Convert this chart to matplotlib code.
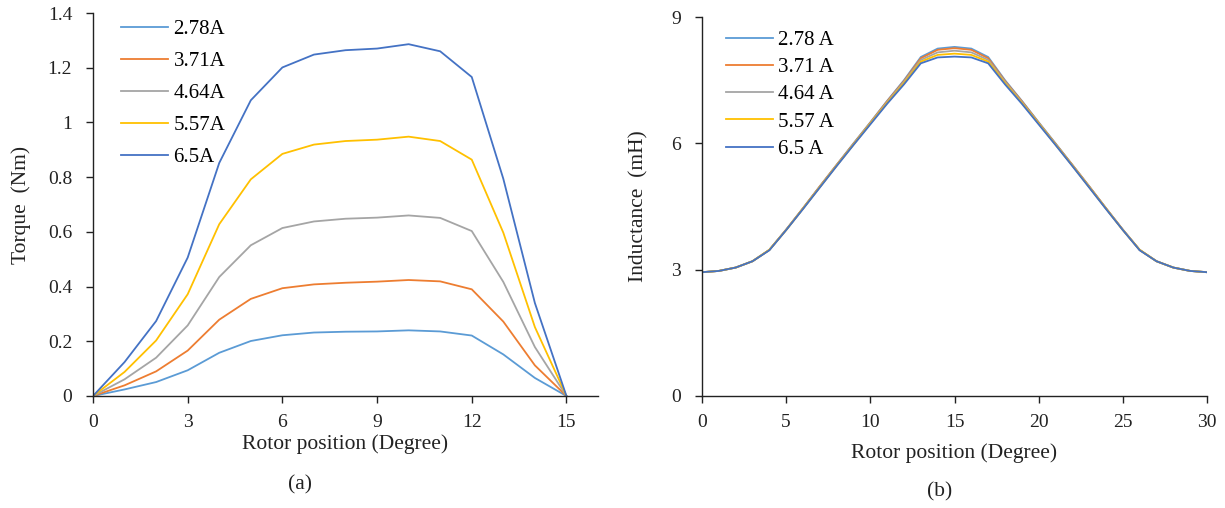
import numpy as np
import matplotlib
matplotlib.use("Agg")
import matplotlib.pyplot as plt

plt.rcParams['font.family'] = ['Liberation Serif', 'DejaVu Serif']

colors = ["#5B9BD5", "#ED7D31", "#A5A5A5", "#FFC000", "#4472C4"]

# torque vs rotor position (a)
torque_pos = [0, 1, 2, 3, 4, 5, 6, 7, 8, 9, 10, 11, 12, 13, 14, 15]
torque_labels = ["2.78A", "3.71A", "4.64A", "5.57A", "6.5A"]
torque_278 = [0, 0.024, 0.051, 0.094, 0.158, 0.201, 0.222, 0.232, 0.235, 0.236, 0.240, 0.236, 0.221, 0.152, 0.066, 0]
torque_371 = [0, 0.039, 0.090, 0.166, 0.279, 0.355, 0.394, 0.408, 0.414, 0.418, 0.424, 0.419, 0.390, 0.272, 0.112, 0]
torque_464 = [0, 0.061, 0.140, 0.258, 0.435, 0.551, 0.614, 0.638, 0.648, 0.652, 0.660, 0.651, 0.603, 0.417, 0.179, 0]
torque_557 = [0, 0.088, 0.203, 0.372, 0.628, 0.792, 0.885, 0.919, 0.932, 0.937, 0.948, 0.932, 0.864, 0.597, 0.252, 0]
torque_650 = [0, 0.124, 0.274, 0.506, 0.852, 1.081, 1.201, 1.248, 1.264, 1.270, 1.286, 1.260, 1.166, 0.794, 0.340, 0]

# inductance vs rotor position (b)
ind_pos = list(range(31))
ind_labels = ["2.78 A", "3.71 A", "4.64 A", "5.57 A", "6.5 A"]
ind_278 = [2.94, 2.97, 3.05, 3.20, 3.47, 3.95, 4.46, 4.98, 5.49, 6.00, 6.50, 7.01, 7.50, 8.05, 8.25, 8.29,
           8.25, 8.05, 7.50, 7.01, 6.50, 6.00, 5.49, 4.98, 4.46, 3.95, 3.47, 3.20, 3.05, 2.97, 2.94]
ind_371 = [2.94, 2.97, 3.05, 3.20, 3.47, 3.95, 4.46, 4.98, 5.49, 5.99, 6.49, 7.00, 7.48, 8.02, 8.22, 8.26,
           8.22, 8.02, 7.48, 7.00, 6.49, 5.99, 5.49, 4.98, 4.46, 3.95, 3.47, 3.20, 3.05, 2.97, 2.94]
ind_464 = [2.94, 2.97, 3.05, 3.20, 3.47, 3.95, 4.45, 4.97, 5.48, 5.98, 6.48, 6.98, 7.46, 7.98, 8.16, 8.20,
           8.16, 7.98, 7.46, 6.98, 6.48, 5.98, 5.48, 4.97, 4.45, 3.95, 3.47, 3.20, 3.05, 2.97, 2.94]
ind_557 = [2.94, 2.97, 3.05, 3.20, 3.47, 3.94, 4.45, 4.96, 5.47, 5.97, 6.47, 6.96, 7.43, 7.94, 8.10, 8.13,
           8.10, 7.94, 7.43, 6.96, 6.47, 5.97, 5.47, 4.96, 4.45, 3.94, 3.47, 3.20, 3.05, 2.97, 2.94]
ind_650 = [2.94, 2.97, 3.05, 3.20, 3.46, 3.94, 4.44, 4.95, 5.46, 5.96, 6.45, 6.94, 7.40, 7.90, 8.04, 8.06,
           8.04, 7.90, 7.40, 6.94, 6.45, 5.96, 5.46, 4.95, 4.44, 3.94, 3.46, 3.20, 3.05, 2.97, 2.94]

fig = plt.figure(figsize=(12.25, 5.08), dpi=100)
W, H = 1225.0, 508.0
ax1 = fig.add_axes([93 / W, 1 - 396 / H, (598 - 93) / W, (396 - 13) / H])
ax2 = fig.add_axes([702 / W, 1 - 396 / H, (1207 - 702) / W, (396 - 17) / H])

def style(ax):
    for s in ["top", "right"]:
        ax.spines[s].set_visible(False)
    for s in ["left", "bottom"]:
        ax.spines[s].set_color("#222222")
        ax.spines[s].set_linewidth(1.0)
    ax.tick_params(direction="out", length=5, width=1.0, color="#222222",
                   labelsize=14, labelcolor="#222222")
    ax.tick_params(axis="y", pad=10)
    ax.tick_params(axis="x", pad=8)

# (a)
for ys, lab, c in zip([torque_278, torque_371, torque_464, torque_557, torque_650], torque_labels, colors):
    ax1.plot(torque_pos, ys, color=c, lw=1.3, label=lab)
ax1.set_xlim(0, 16)
ax1.set_ylim(0, 1.4)
ax1.set_xticks([0, 3, 6, 9, 12, 15])
ax1.set_yticks([0, 0.2, 0.4, 0.6, 0.8, 1, 1.2, 1.4])
ax1.set_yticklabels(["0", "0.2", "0.4", "0.6", "0.8", "1", "1.2", "1.4"])
style(ax1)
ax1.set_xlabel("Rotor position (Degree)", fontsize=15.5, color="#222222")
ax1.set_ylabel("Torque  (Nm)", fontsize=15.5, color="#222222")
ax1.xaxis.set_label_coords(0.5, -0.099)
ax1.yaxis.set_label_coords(-0.1228, 0.5)
ax1.legend(loc="upper left", bbox_to_anchor=(0.0554, 0.983), frameon=False, fontsize=15,
           handlelength=2.27, handletextpad=0.25, labelspacing=0.6, borderpad=0, borderaxespad=0)

# (b)
for ys, lab, c in zip([ind_278, ind_371, ind_464, ind_557, ind_650], ind_labels, colors):
    ax2.plot(ind_pos, ys, color=c, lw=1.3, label=lab)
ax2.set_xlim(0, 30)
ax2.set_ylim(0, 9)
ax2.set_xticks([0, 5, 10, 15, 20, 25, 30])
ax2.set_yticks([0, 3, 6, 9])
style(ax2)
ax2.set_xlabel("Rotor position (Degree)", fontsize=15.5, color="#222222")
ax2.set_ylabel("Inductance  (mH)", fontsize=15.5, color="#222222")
ax2.xaxis.set_label_coords(0.5, -0.124)
ax2.yaxis.set_label_coords(-0.105, 0.5)
ax2.legend(loc="upper left", bbox_to_anchor=(0.0475, 0.965), frameon=False, fontsize=15,
           handlelength=2.27, handletextpad=0.25, labelspacing=0.37, borderpad=0, borderaxespad=0)

fig.text(300 / W, 1 - 485 / H, "(a)", fontsize=15.5, color="#222222", ha="center", va="center")
fig.text(940 / W, 1 - 492 / H, "(b)", fontsize=15.5, color="#222222", ha="center", va="center")

fig.savefig("out.png", dpi=100)
